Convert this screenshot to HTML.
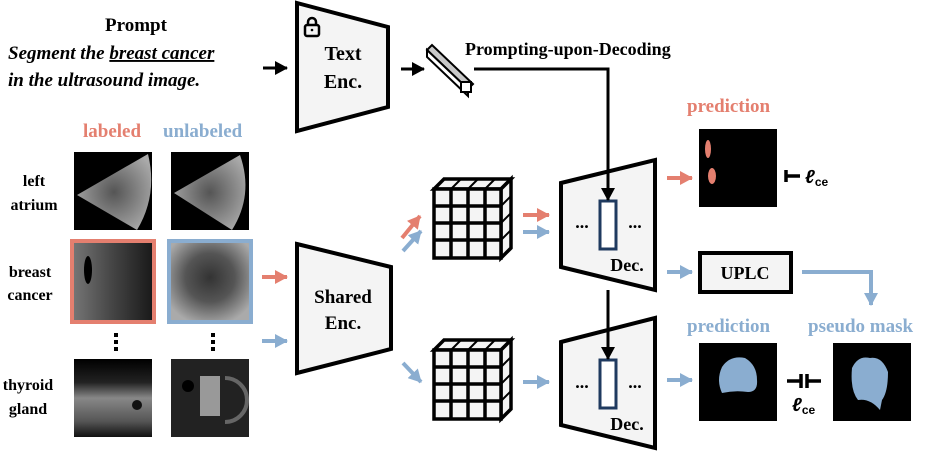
<!DOCTYPE html>
<html><head><meta charset="utf-8"><style>
html,body{margin:0;padding:0;background:#fff;}
svg{display:block;font-family:"Liberation Serif",serif;}
.b{font-weight:bold;}
</style></head><body>
<svg width="930" height="451" viewBox="0 0 930 451" xmlns="http://www.w3.org/2000/svg">
<defs>
<marker id="ak" markerWidth="13" markerHeight="14" refX="12" refY="7" orient="auto" markerUnits="userSpaceOnUse" viewBox="0 0 13 14"><path d="M0,0 L13,7 L0,14 z" fill="#000"/></marker>
<marker id="ar" markerWidth="13" markerHeight="14" refX="12" refY="7" orient="auto" markerUnits="userSpaceOnUse" viewBox="0 0 13 14"><path d="M0,0 L13,7 L0,14 z" fill="#e47f6f"/></marker>
<marker id="ab" markerWidth="13" markerHeight="14" refX="12" refY="7" orient="auto" markerUnits="userSpaceOnUse" viewBox="0 0 13 14"><path d="M0,0 L13,7 L0,14 z" fill="#8aadd0"/></marker>
<radialGradient id="us1" cx="0.5" cy="0.5" r="0.6"><stop offset="0" stop-color="#555"/><stop offset="0.6" stop-color="#888"/><stop offset="1" stop-color="#aaa"/></radialGradient>
<linearGradient id="bc1" x1="0" x2="1"><stop offset="0" stop-color="#777"/><stop offset="0.5" stop-color="#444"/><stop offset="1" stop-color="#181818"/></linearGradient>
<radialGradient id="bc2" cx="0.5" cy="0.45" r="0.6"><stop offset="0" stop-color="#333"/><stop offset="0.5" stop-color="#555"/><stop offset="1" stop-color="#aaa"/></radialGradient>
<linearGradient id="th" x1="0" y1="0" x2="0" y2="1"><stop offset="0" stop-color="#000"/><stop offset="0.3" stop-color="#222"/><stop offset="0.5" stop-color="#888"/><stop offset="0.8" stop-color="#555"/><stop offset="1" stop-color="#111"/></linearGradient>
</defs>

<!-- Prompt -->
<text x="136" y="31" class="b" font-size="19" text-anchor="middle">Prompt</text>
<text x="8" y="59" class="b" font-size="19" font-style="italic">Segment the <tspan text-decoration="underline">breast cancer</tspan></text>
<text x="8" y="86" class="b" font-size="19" font-style="italic">in the ultrasound image.</text>
<line x1="263" y1="68" x2="287" y2="68" stroke="#000" stroke-width="3" marker-end="url(#ak)"/>

<!-- Text Enc -->
<polygon points="297,3 388,27 388,107 297,131" fill="#f4f4f4" stroke="#000" stroke-width="4"/>
<rect x="305" y="25" width="14" height="11" rx="2" fill="none" stroke="#000" stroke-width="2.5"/>
<path d="M308,25 v-3 a4,4 0 0 1 8,0 v3" fill="none" stroke="#000" stroke-width="2.5"/>
<circle cx="312" cy="30" r="1.3" fill="#000"/>
<text x="343" y="60" class="b" font-size="20" text-anchor="middle">Text</text>
<text x="343" y="88" class="b" font-size="20" text-anchor="middle">Enc.</text>
<line x1="401" y1="69" x2="424" y2="69" stroke="#000" stroke-width="3" marker-end="url(#ak)"/>

<!-- token bar -->
<polygon points="427,50 432,45 473,84 468,89" fill="#c8c8c8" stroke="#000" stroke-width="2"/>
<polygon points="427,50 468,89 468,96 427,57" fill="#fff" stroke="#000" stroke-width="2"/>
<rect x="461" y="82" width="10" height="10" fill="#fff" stroke="#000" stroke-width="2"/>
<text x="465" y="55" class="b" font-size="18">Prompting-upon-Decoding</text>

<!-- labeled/unlabeled -->
<text x="83" y="137" class="b" font-size="19" fill="#e47f6f">labeled</text>
<text x="163" y="137" class="b" font-size="19" fill="#8aadd0">unlabeled</text>

<!-- row labels -->
<g class="b" font-size="16" text-anchor="middle">
<text x="34" y="186">left</text><text x="34" y="210">atrium</text>
<text x="30" y="277">breast</text><text x="30" y="300">cancer</text>
<text x="28" y="390">thyroid</text><text x="28" y="414">gland</text>
</g>

<!-- images -->
<rect x="74" y="152" width="78" height="78" fill="#000"/>
<path d="M77,195 L148,154 Q158,195 137,230 Z" fill="url(#us1)"/>
<rect x="171" y="152" width="78" height="78" fill="#000"/>
<path d="M174,193 L240,155 Q254,195 232,230 Z" fill="url(#us1)"/>

<rect x="72" y="241" width="82" height="81" fill="url(#bc1)" stroke="#e47f6f" stroke-width="4"/>
<ellipse cx="88" cy="270" rx="4" ry="14" fill="#000"/>
<rect x="169" y="241" width="82" height="81" fill="url(#bc2)" stroke="#8aadd0" stroke-width="4"/>

<g fill="#000"><rect x="114" y="333" width="4" height="4"/><rect x="114" y="340" width="4" height="4"/><rect x="114" y="347" width="4" height="4"/>
<rect x="211" y="333" width="4" height="4"/><rect x="211" y="340" width="4" height="4"/><rect x="211" y="347" width="4" height="4"/></g>

<rect x="74" y="359" width="78" height="78" fill="url(#th)"/>
<circle cx="137" cy="405" r="5" fill="#111"/>
<rect x="171" y="359" width="78" height="78" fill="#222"/>
<rect x="200" y="376" width="20" height="40" fill="#999"/>
<circle cx="188" cy="386" r="6" fill="#000"/>
<path d="M225,378 a22,22 0 0 1 0,44" fill="none" stroke="#666" stroke-width="4"/>

<!-- arrows to shared enc -->
<line x1="262" y1="277" x2="287" y2="277" stroke="#e47f6f" stroke-width="4" marker-end="url(#ar)"/>
<line x1="262" y1="341" x2="287" y2="341" stroke="#8aadd0" stroke-width="4" marker-end="url(#ab)"/>

<!-- Shared Enc -->
<polygon points="297,244 391,267 391,349 297,373" fill="#f4f4f4" stroke="#000" stroke-width="4"/>
<text x="343" y="303" class="b" font-size="19" text-anchor="middle">Shared</text>
<text x="343" y="329" class="b" font-size="19" text-anchor="middle">Enc.</text>

<line x1="402" y1="238" x2="420" y2="216" stroke="#e47f6f" stroke-width="4" marker-end="url(#ar)"/>
<line x1="403" y1="251" x2="421" y2="231" stroke="#8aadd0" stroke-width="4" marker-end="url(#ab)"/>
<line x1="403" y1="363" x2="421" y2="382" stroke="#8aadd0" stroke-width="4" marker-end="url(#ab)"/>

<!-- cubes -->
<g id="cube" stroke="#000" stroke-width="3.5" fill="#f4f4f4">
<polygon points="434,189 444,179 511,179 501,189"/>
<polygon points="501,189 511,179 511,248 501,258"/>
<rect x="434" y="189" width="67" height="69"/>
<path d="M451,189v69M468,189v69M485,189v69M434,206h67M434,223h67M434,240h67" fill="none"/>
<path d="M451,189l10,-10M468,189l10,-10M485,189l10,-10M501,206l10,-10M501,223l10,-10M501,240l10,-10" fill="none" stroke-width="2"/>
</g>
<use href="#cube" y="161"/>

<line x1="523" y1="215" x2="549" y2="215" stroke="#e47f6f" stroke-width="4" marker-end="url(#ar)"/>
<line x1="523" y1="232" x2="549" y2="232" stroke="#8aadd0" stroke-width="4" marker-end="url(#ab)"/>
<line x1="523" y1="382" x2="549" y2="382" stroke="#8aadd0" stroke-width="4" marker-end="url(#ab)"/>

<!-- Decoders -->
<polygon points="561,183 655,160 655,290 561,267" fill="#f4f4f4" stroke="#000" stroke-width="4"/>
<rect x="600" y="201" width="16" height="48" fill="#fff" stroke="#1f3a5f" stroke-width="3"/>
<text x="582" y="228" class="b" font-size="18" text-anchor="middle">...</text>
<text x="635" y="228" class="b" font-size="18" text-anchor="middle">...</text>
<text x="627" y="271" class="b" font-size="18" text-anchor="middle">Dec.</text>
<polygon points="561,342 655,318 655,448 561,425" fill="#f4f4f4" stroke="#000" stroke-width="4"/>
<rect x="600" y="360" width="16" height="48" fill="#fff" stroke="#1f3a5f" stroke-width="3"/>
<text x="582" y="388" class="b" font-size="18" text-anchor="middle">...</text>
<text x="635" y="388" class="b" font-size="18" text-anchor="middle">...</text>
<text x="627" y="430" class="b" font-size="18" text-anchor="middle">Dec.</text>

<polyline points="474,69 608,69 608,200" fill="none" stroke="#000" stroke-width="3" marker-end="url(#ak)"/>
<line x1="608" y1="290" x2="608" y2="359" stroke="#000" stroke-width="3" marker-end="url(#ak)"/>

<line x1="667" y1="178" x2="692" y2="178" stroke="#e47f6f" stroke-width="4" marker-end="url(#ar)"/>
<line x1="667" y1="272" x2="692" y2="272" stroke="#8aadd0" stroke-width="4" marker-end="url(#ab)"/>
<line x1="667" y1="380" x2="692" y2="380" stroke="#8aadd0" stroke-width="4" marker-end="url(#ab)"/>

<!-- right side -->
<text x="687" y="112" class="b" font-size="19" fill="#e47f6f">prediction</text>
<rect x="699" y="129" width="78" height="78" fill="#000"/>
<ellipse cx="708" cy="149" rx="3" ry="9" fill="#e47f6f"/>
<ellipse cx="712" cy="176" rx="4" ry="8" fill="#e47f6f"/>
<path d="M786,170v12M786,176h14" stroke="#000" stroke-width="3.5" fill="none"/>
<text x="805" y="183" font-family="Liberation Sans,sans-serif" font-weight="bold" font-style="italic" font-size="19">ℓ<tspan font-size="12" font-style="normal" dy="3">ce</tspan></text>

<rect x="700" y="253" width="91" height="39" fill="#f4f4f4" stroke="#000" stroke-width="4"/>
<text x="745" y="279" class="b" font-size="18" text-anchor="middle">UPLC</text>
<polyline points="802,272 871,272 871,305" fill="none" stroke="#8aadd0" stroke-width="4" marker-end="url(#ab)"/>

<text x="687" y="332" class="b" font-size="19" fill="#8aadd0">prediction</text>
<text x="808" y="332" class="b" font-size="19" fill="#8aadd0">pseudo mask</text>
<rect x="699" y="343" width="78" height="78" fill="#000"/>
<path d="M722,367 Q730,355 745,358 Q757,365 757,380 Q758,392 748,392 Q735,390 722,393 Q716,380 722,367Z" fill="#8aadd0"/>
<rect x="833" y="343" width="78" height="78" fill="#000"/>
<path d="M852,368 Q858,355 870,358 Q882,356 888,372 Q888,392 882,400 L880,410 Q870,398 858,400 Q850,390 852,368Z" fill="#8aadd0"/>
<path d="M787,381h14M801,374v14M807,374v14M807,381h14" stroke="#000" stroke-width="3.5" fill="none"/>
<text x="792" y="411" font-family="Liberation Sans,sans-serif" font-weight="bold" font-style="italic" font-size="19">ℓ<tspan font-size="12" font-style="normal" dy="3">ce</tspan></text>
</svg>
</body></html>
